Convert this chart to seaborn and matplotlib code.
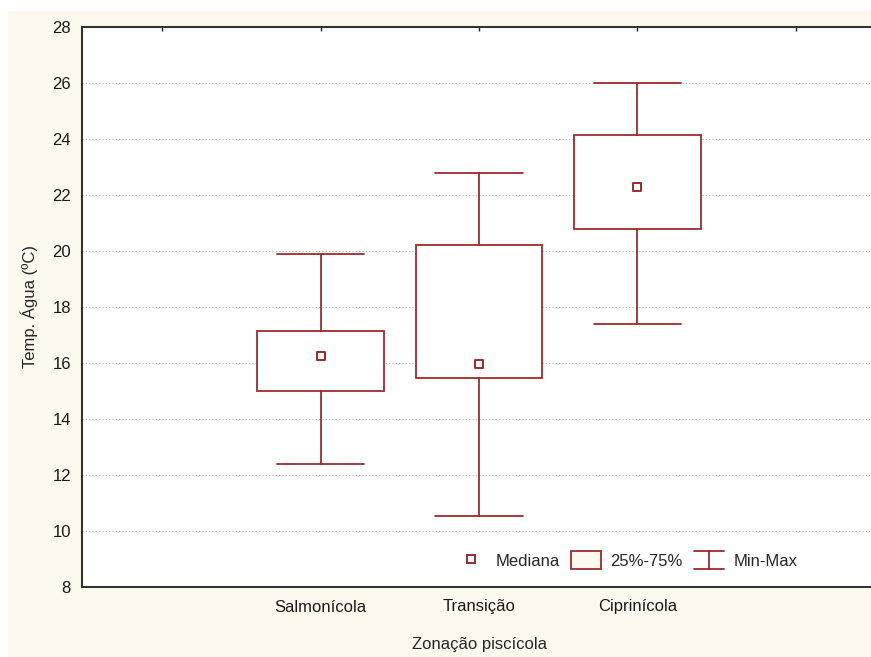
import numpy as np
import pandas as pd
import matplotlib
matplotlib.use("Agg")
import matplotlib.pyplot as plt
import seaborn as sns
from matplotlib.patches import Rectangle
from matplotlib.lines import Line2D
from matplotlib.legend_handler import HandlerBase

# values (ºC)
categories = ["Salmonícola", "Transição", "Ciprinícola"]
minimum = [12.4, 10.55, 17.4]
q1 = [15.0, 15.45, 20.8]
median = [16.25, 15.95, 22.3]
q3 = [17.15, 20.2, 24.15]
maximum = [19.9, 22.8, 26.0]
positions = [1, 2, 3]

RED = "#9E2A2B"
CREAM = "#FEF9EE"
FS = 12

sns.set_style("white")
plt.rcParams["font.family"] = ["Liberation Sans", "DejaVu Sans"]
plt.rcParams["font.size"] = FS


class MinMaxHandler(HandlerBase):
    # draws the I-shaped min-max symbol in the legend
    def create_artists(self, legend, orig_handle, xdescent, ydescent,
                       width, height, fontsize, trans):
        x0, x1 = -xdescent, -xdescent + width
        y0, y1 = -ydescent, -ydescent + height
        xm = (x0 + x1) / 2
        segs = [([x0, x1], [y1, y1]), ([x0, x1], [y0, y0]), ([xm, xm], [y0, y1])]
        arts = []
        for xs, ys in segs:
            ln = Line2D(xs, ys, color=RED, linewidth=1.3)
            ln.set_transform(trans)
            arts.append(ln)
        return arts


fig = plt.figure(figsize=(8.71, 6.57), dpi=100, facecolor="white")
fig.patches.append(Rectangle((8 / 871, 0), 1, (657 - 11) / 657,
                             transform=fig.transFigure, facecolor=CREAM,
                             edgecolor="none", zorder=-10))
ax = fig.add_axes([82 / 871, 70 / 657, 794 / 871, 560 / 657])
ax.set_facecolor("white")

df = pd.DataFrame({"zona": categories, "pos": positions, "min": minimum,
                   "q1": q1, "med": median, "q3": q3, "max": maximum})

stats = [dict(label=r.zona, whislo=r["min"], q1=r.q1, med=r.med, q3=r.q3,
              whishi=r["max"]) for _, r in df.iterrows()]
ax.bxp(stats, positions=df["pos"], widths=0.8, capwidths=0.55,
       showfliers=False, patch_artist=True,
       boxprops=dict(facecolor="white", edgecolor=RED, linewidth=1.3),
       whiskerprops=dict(color=RED, linewidth=1.3),
       capprops=dict(color=RED, linewidth=1.3),
       medianprops=dict(linewidth=0), zorder=3)

sns.scatterplot(data=df, x="pos", y="med", marker="s", s=40,
                color="white", edgecolor=RED, linewidth=1.4, ax=ax, zorder=4,
                legend=False)

ax.set_xlim(-0.505, 4.505)
ax.set_ylim(8, 28)
ax.set_yticks(np.arange(8, 29, 2))
ax.set_xticks([0, 1, 2, 3, 4])
ax.set_xticklabels([""] + categories + [""])
ax.grid(axis="y", linestyle=(0, (1, 2)), color="#b0b0b0", linewidth=0.8)
ax.set_axisbelow(True)
ax.tick_params(axis="both", direction="in", length=3, width=1, color="#222222",
               labelsize=FS, labelcolor="#1a1a1a", top=True)
ax.tick_params(axis="y", pad=8)
ax.tick_params(axis="x", pad=9)
for sp in ax.spines.values():
    sp.set_color("#333333")
    sp.set_linewidth(1.5)

ax.set_xlabel("Zonação piscícola", fontsize=FS, labelpad=16)
ax.set_ylabel("Temp. Água (ºC)", fontsize=FS, labelpad=10)

h_med = Line2D([], [], marker="s", linestyle="none", markersize=6,
               markerfacecolor="white", markeredgecolor=RED, markeredgewidth=1.4)
h_box = Rectangle((0, 0), 1, 1, facecolor=CREAM, edgecolor=RED, linewidth=1.3)
h_mm = object()
leg = ax.legend([h_med, h_box, h_mm], ["Mediana", "25%-75%", "Min-Max"],
                handler_map={h_mm: MinMaxHandler()}, ncol=3, frameon=False,
                loc="center", bbox_to_anchor=(0.686, 0.048),
                handlelength=1.8, handleheight=1.25, handletextpad=0.6,
                columnspacing=0.65, fontsize=FS)

fig.savefig("out.png", dpi=100, facecolor=fig.get_facecolor())
